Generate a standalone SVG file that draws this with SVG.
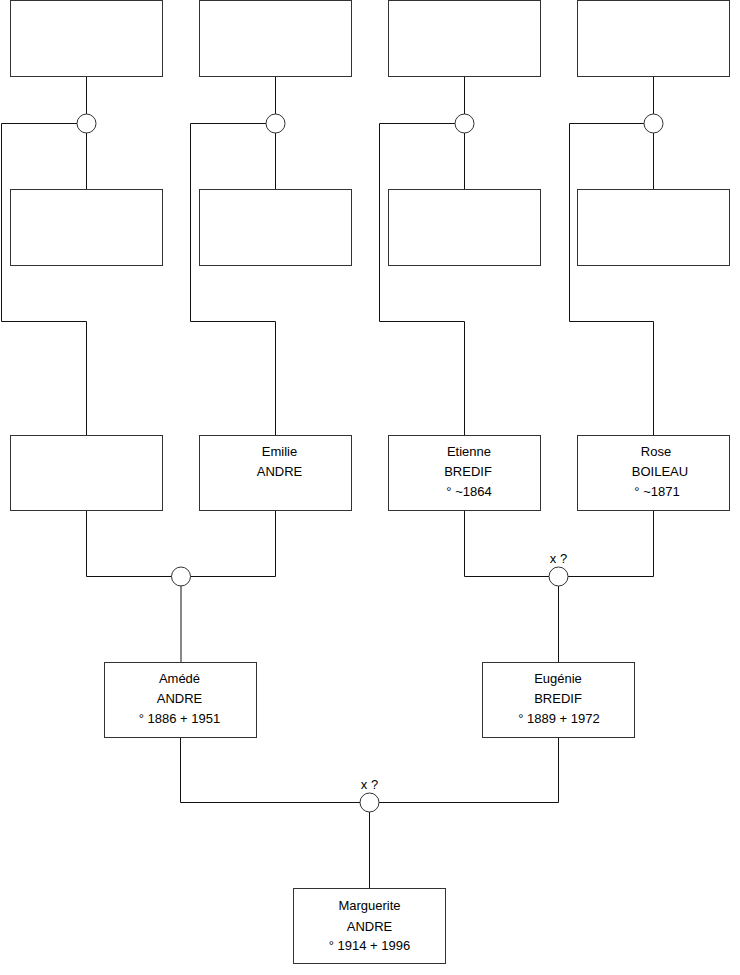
<svg xmlns="http://www.w3.org/2000/svg" width="740" height="975" viewBox="0 0 740 975">
<style>
.box{fill:#fff;stroke:#333;stroke-width:1}
.ln{fill:none;stroke:#111;stroke-width:1}
.ring{fill:#fff;stroke:#333;stroke-width:1}
text{font-family:"Liberation Sans",Arial,sans-serif;font-size:13px;fill:#000;text-anchor:middle}
</style>
<rect width="740" height="975" fill="#fff"/>
<g id="connectors">
<path class="ln" d="M86.5 76.5V190.5M86.5 123.5H1.5V321.5H86.5V435.5"/>
<path class="ln" d="M275.5 76.5V190.5M275.5 123.5H190.5V321.5H275.5V435.5"/>
<path class="ln" d="M464.5 76.5V190.5M464.5 123.5H379.5V321.5H464.5V435.5"/>
<path class="ln" d="M653.5 76.5V190.5M653.5 123.5H569.5V321.5H653.5V435.5"/>
<path class="ln" d="M86.5 510.5V576.5H275.5V510.5M181 576.5V662.5"/>
<path class="ln" d="M464.5 510.5V576.5H653.5V510.5M558.5 576.5V662.5"/>
<path class="ln" d="M180.5 737.5V802.5H558.5V737.5M369.5 802.5V888.5"/>
</g>
<g id="union1"><circle class="ring" cx="86.5" cy="123.5" r="9.5"/></g>
<g id="union2"><circle class="ring" cx="275.5" cy="123.5" r="9.5"/></g>
<g id="union3"><circle class="ring" cx="464.5" cy="123.5" r="9.5"/></g>
<g id="union4"><circle class="ring" cx="653.5" cy="123.5" r="9.5"/></g>
<g id="union5"><circle class="ring" cx="181" cy="576.5" r="9.5"/></g>
<g id="union6"><circle class="ring" cx="558.5" cy="576.5" r="9.5"/><text x="558.5" y="563">x ?</text></g>
<g id="union7"><circle class="ring" cx="369.5" cy="802.5" r="9.5"/><text x="369.5" y="788.5">x ?</text></g>

<g id="p1"><rect class="box" x="10.5" y="0.5" width="152" height="76"/></g>
<g id="p2"><rect class="box" x="199.5" y="0.5" width="152" height="76"/></g>
<g id="p3"><rect class="box" x="388.5" y="0.5" width="152" height="76"/></g>
<g id="p4"><rect class="box" x="577.5" y="0.5" width="152" height="76"/></g>
<g id="p5"><rect class="box" x="10.5" y="189.5" width="152" height="76"/></g>
<g id="p6"><rect class="box" x="199.5" y="189.5" width="152" height="76"/></g>
<g id="p7"><rect class="box" x="388.5" y="189.5" width="152" height="76"/></g>
<g id="p8"><rect class="box" x="577.5" y="189.5" width="152" height="76"/></g>

<g id="p9"><rect class="box" x="10.5" y="435.5" width="152" height="75"/></g>
<g id="emilie"><rect class="box" x="199.5" y="435.5" width="152" height="75"/>
<text x="279.5" y="455.5">Emilie</text><text x="279.5" y="475.5">ANDRE</text></g>
<g id="etienne"><rect class="box" x="388.5" y="435.5" width="152" height="75"/>
<text x="469" y="455.5">Etienne</text><text x="468" y="475.5">BREDIF</text><text x="469" y="495.5">° ~1864</text></g>
<g id="rose"><rect class="box" x="577.5" y="435.5" width="152" height="75"/>
<text x="656" y="455.5">Rose</text><text x="660" y="475.5">BOILEAU</text><text x="657" y="495.5">° ~1871</text></g>

<g id="amede"><rect class="box" x="104.5" y="662.5" width="152" height="75"/>
<text x="179.5" y="682.5">Amédé</text><text x="179.5" y="702.5">ANDRE</text><text x="179.5" y="722.5">° 1886 + 1951</text></g>
<g id="eugenie"><rect class="box" x="482.5" y="662.5" width="152" height="75"/>
<text x="558" y="682.5">Eugénie</text><text x="558" y="702.5">BREDIF</text><text x="559" y="722.5">° 1889 + 1972</text></g>

<g id="marguerite"><rect class="box" x="293.5" y="888.5" width="152" height="75"/>
<text x="369.5" y="909.5">Marguerite</text><text x="369.5" y="930.5">ANDRE</text><text x="369.5" y="950">° 1914 + 1996</text></g>
</svg>
